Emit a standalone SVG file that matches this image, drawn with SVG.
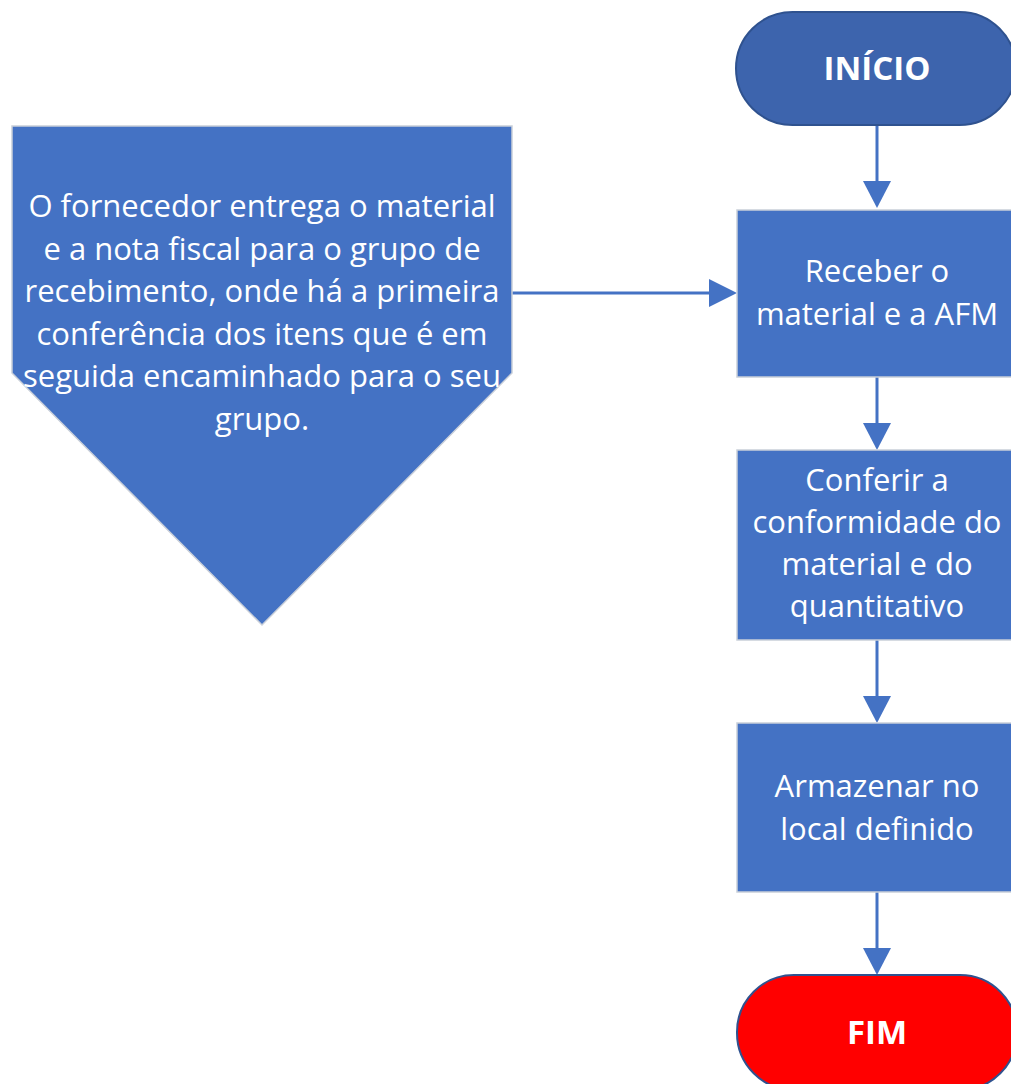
<svg xmlns="http://www.w3.org/2000/svg" width="1011" height="1084" viewBox="0 0 1011 1084">
<defs>
<style>
.box{fill:#4472c4;stroke:#c9cfd9;stroke-width:1.5}
.t{font-family:"Open Sans","Liberation Sans",sans-serif;font-size:31px;fill:#ffffff;text-anchor:middle}
.tb{font-family:"Open Sans","Liberation Sans",sans-serif;font-size:33px;font-weight:bold;fill:#ffffff;text-anchor:middle}
.conn{stroke:#4472c4;stroke-width:3;fill:none}
.head{fill:#4472c4}
</style>
</defs>
<rect width="1011" height="1084" fill="#ffffff"/>
<g id="connectors">
<line class="conn" x1="877" y1="125" x2="877" y2="185"/>
<polygon class="head" points="863,181 891,181 877,208"/>
<line class="conn" x1="877" y1="377" x2="877" y2="427"/>
<polygon class="head" points="863,423 891,423 877,450"/>
<line class="conn" x1="877" y1="640" x2="877" y2="700"/>
<polygon class="head" points="863,696 891,696 877,723"/>
<line class="conn" x1="877" y1="892" x2="877" y2="952"/>
<polygon class="head" points="863,948 891,948 877,975"/>
<line class="conn" x1="512" y1="293" x2="712" y2="293"/>
<polygon class="head" points="709,279 709,307 737,293"/>
</g>
<g id="inicio">
<rect x="736" y="12" width="280" height="113" rx="56.5" fill="#3d64ad" stroke="#2f528f" stroke-width="2"/>
<text class="tb" x="877" y="80">INÍCIO</text>
</g>
<g id="fornecedor">
<polygon class="box" points="12,126 512,126 512,373 262,625 12,373"/>
<text class="t" x="262" y="217">O fornecedor entrega o material</text>
<text class="t" x="262" y="259.5">e a nota fiscal para o grupo de</text>
<text class="t" x="262" y="302">recebimento, onde há a primeira</text>
<text class="t" x="262" y="344.5">conferência dos itens que é em</text>
<text class="t" x="262" y="387">seguida encaminhado para o seu</text>
<text class="t" x="262" y="429.5">grupo.</text>
</g>
<g id="receber">
<rect class="box" x="737" y="210" width="280" height="167"/>
<text class="t" x="877" y="282">Receber o</text>
<text class="t" x="877" y="325">material e a AFM</text>
</g>
<g id="conferir">
<rect class="box" x="737" y="450" width="280" height="190"/>
<text class="t" x="877" y="491">Conferir a</text>
<text class="t" x="877" y="533">conformidade do</text>
<text class="t" x="877" y="575">material e do</text>
<text class="t" x="877" y="617">quantitativo</text>
</g>
<g id="armazenar">
<rect class="box" x="737" y="723" width="280" height="169"/>
<text class="t" x="877" y="797">Armazenar no</text>
<text class="t" x="877" y="840">local definido</text>
</g>
<g id="fim">
<rect x="737" y="975" width="280" height="115" rx="57" fill="#ff0000" stroke="#2f528f" stroke-width="2"/>
<text class="tb" x="877" y="1044">FIM</text>
</g>
</svg>
